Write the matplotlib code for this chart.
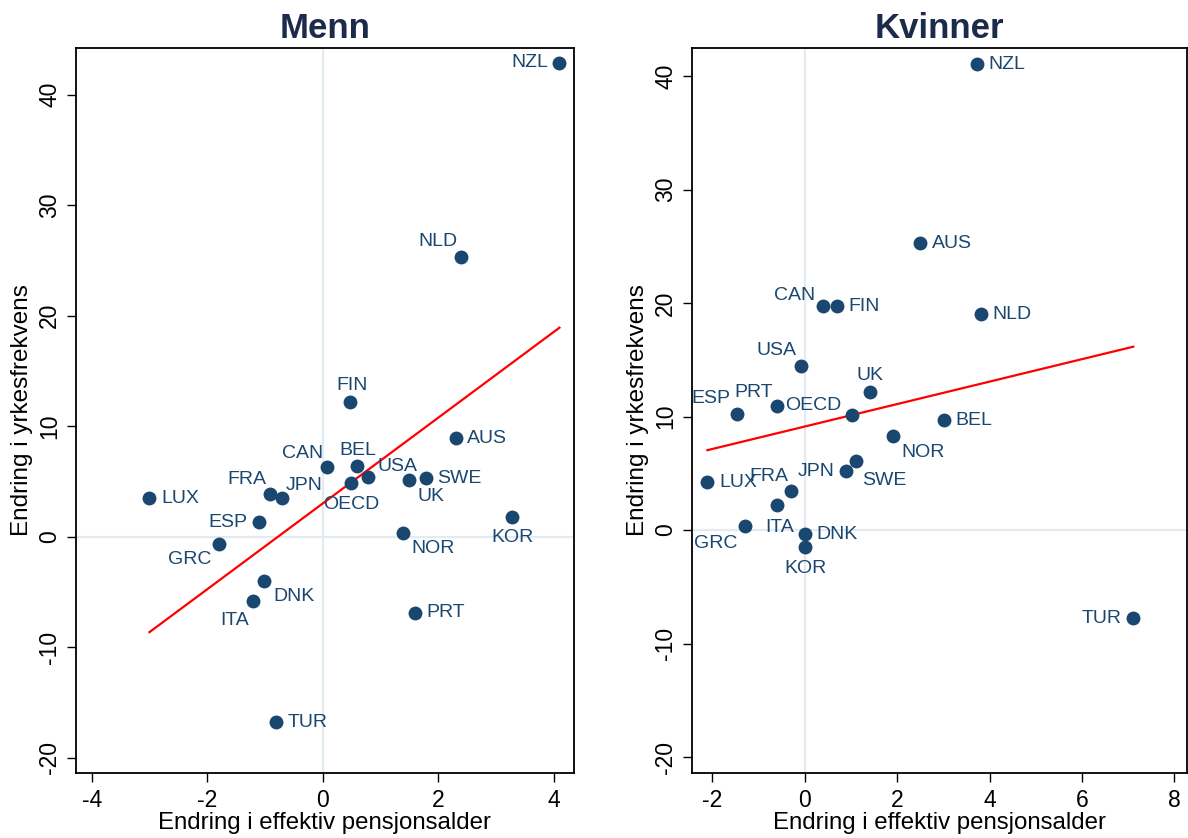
import matplotlib
matplotlib.use("Agg")
import matplotlib.pyplot as plt
import numpy as np

plt.rcParams['font.family'] = ['Liberation Sans', 'DejaVu Sans']

# ---------------- data ----------------
countries_m = ["NZL", "NLD", "FIN", "AUS", "CAN", "BEL", "USA", "OECD", "UK", "SWE", "FRA",
               "JPN", "LUX", "ESP", "GRC", "KOR", "NOR", "DNK", "ITA", "PRT", "TUR"]
x_m = [4.10, 2.40, 0.47, 2.30, 0.07, 0.60, 0.79, 0.49, 1.49, 1.79, -0.92,
       -0.70, -3.00, -1.10, -1.80, 3.28, 1.39, -1.01, -1.21, 1.59, -0.81]
y_m = [42.9, 25.3, 12.2, 8.9, 6.3, 6.4, 5.4, 4.9, 5.1, 5.3, 3.9,
       3.5, 3.5, 1.3, -0.7, 1.8, 0.3, -4.0, -5.8, -6.9, -16.8]

countries_k = ["NZL", "AUS", "CAN", "FIN", "NLD", "USA", "UK", "ESP", "PRT", "OECD", "BEL",
               "NOR", "SWE", "JPN", "LUX", "FRA", "ITA", "GRC", "DNK", "KOR", "TUR"]
x_k = [3.73, 2.50, 0.40, 0.70, 3.82, -0.08, 1.42, -1.48, -0.60, 1.03, 3.02,
       1.91, 1.11, 0.90, -2.11, -0.29, -0.60, -1.29, 0.01, 0.01, 7.11]
y_k = [41.06, 25.29, 19.74, 19.74, 19.03, 14.45, 12.16, 10.22, 10.93, 10.13, 9.69,
       8.28, 6.08, 5.20, 4.23, 3.44, 2.20, 0.35, -0.35, -1.50, -7.75]

xticks_m = [-4, -2, 0, 2, 4]
xticks_k = [-2, 0, 2, 4, 6, 8]
yticks = [-20, -10, 0, 10, 20, 30, 40]

titles = ["Menn", "Kvinner"]
xlabel = "Endring i effektiv pensjonsalder"
ylabel = "Endring i yrkesfrekvens"

# ---------------- label placement (pixel offsets) ----------------
# mode: 'r' = right of point, 'l' = left of point, 'c' = centered offset (dx, dy down)
lab_m = {
    "NZL": ('l', 0, 0), "NLD": ('c', -23, -16), "FIN": ('c', 2, -16), "AUS": ('r', 0, 0),
    "CAN": ('c', -24, -14), "BEL": ('c', 0, -16), "USA": ('c', 29, -11), "OECD": ('c', 0, 22),
    "UK": ('c', 22, 16), "SWE": ('r', 0, 0), "FRA": ('c', -23, -14), "JPN": ('c', 22, -13),
    "LUX": ('r', 0, 0), "ESP": ('l', 0, 0), "GRC": ('c', -29, 15), "KOR": ('c', 0, 21),
    "NOR": ('c', 30, 15), "DNK": ('c', 30, 16), "ITA": ('c', -18, 20), "PRT": ('r', 0, 0),
    "TUR": ('r', 0, 0),
}
lab_k = {
    "NZL": ('r', 0, 0), "AUS": ('r', 0, 0), "CAN": ('c', -29, -11), "FIN": ('r', 0, 0),
    "NLD": ('r', 0, 0), "USA": ('c', -25, -16), "UK": ('c', 0, -17), "ESP": ('c', -26, -16),
    "PRT": ('c', -23, -14), "OECD": ('l', 0, -10), "BEL": ('r', 0, 0), "NOR": ('c', 30, 16),
    "SWE": ('c', 28, 19), "JPN": ('l', 0, 0), "LUX": ('r', 0, 0), "FRA": ('c', -23, -15),
    "ITA": ('c', 2, 22), "GRC": ('c', -30, 17), "DNK": ('r', 0, 0), "KOR": ('c', 0, 21),
    "TUR": ('l', 0, 0),
}

NAVY = '#1a476f'
TITLE = '#1c2a4c'
REF = '#e3ebf0'
DPI = 100
W, H = 1188, 838
PT = 72.0 / DPI

fig = plt.figure(figsize=(W / DPI, H / DPI), dpi=DPI)
fig.patch.set_facecolor('white')

bottom = 1 - 773 / H
top = 1 - 48 / H
ax1 = fig.add_axes([75.8 / W, bottom, (573.5 - 75.8) / W, top - bottom])
ax2 = fig.add_axes([691.7 / W, bottom, (1187.3 - 691.7) / W, top - bottom])

panels = [
    (ax1, x_m, y_m, countries_m, lab_m, xticks_m, (-4.275, 4.343), (-21.38, 44.23)),
    (ax2, x_k, y_k, countries_k, lab_k, xticks_k, (-2.45, 8.28), (-21.4, 42.47)),
]

LFS = 14
for i, (ax, xs, ys, names, labs, xt, xl, yl) in enumerate(panels):
    xs = np.asarray(xs)
    ys = np.asarray(ys)
    ax.set_xlim(*xl)
    ax.set_ylim(*yl)
    ax.axvline(0, color=REF, lw=1.6, zorder=0)
    ax.axhline(0, color=REF, lw=1.6, zorder=0)
    ax.scatter(xs, ys, s=10 ** 2, color=NAVY, zorder=3, linewidths=0)
    b, a = np.polyfit(xs, ys, 1)
    xx = np.array([xs.min(), xs.max()])
    ax.plot(xx, a + b * xx, color='#ff0000', lw=1.6, zorder=2)
    for n, x, y in zip(names, xs, ys):
        mode, dx, dy = labs[n]
        if mode == 'r':
            ax.annotate(n, (x, y), xytext=(11.5 * PT, -dy * PT), textcoords='offset points',
                        ha='left', va='center', fontsize=LFS, color=NAVY, zorder=4)
        elif mode == 'l':
            ax.annotate(n, (x, y), xytext=(-11.5 * PT, -dy * PT), textcoords='offset points',
                        ha='right', va='center', fontsize=LFS, color=NAVY, zorder=4)
        else:
            ax.annotate(n, (x, y), xytext=(dx * PT, -dy * PT), textcoords='offset points',
                        ha='center', va='center', fontsize=LFS, color=NAVY, zorder=4)
    ax.set_xticks(xt)
    ax.set_yticks(yticks)
    ax.set_xticklabels([str(t) for t in xt])
    ax.set_yticklabels([str(t) for t in yticks], rotation=90, va='center')
    ax.tick_params(axis='both', direction='out', length=6.5, width=1.0, labelsize=16.5,
                   colors='black', top=False, right=False)
    ax.tick_params(axis='x', pad=5)
    ax.tick_params(axis='y', pad=4)
    for sp in ax.spines.values():
        sp.set_linewidth(1.3)
        sp.set_color('black')
    ax.set_xlabel(xlabel, fontsize=17.3, labelpad=0)
    ax.set_ylabel(ylabel, fontsize=17.5, labelpad=4)
    ax.set_title(titles[i], fontsize=25, fontweight='bold', color=TITLE, pad=7)

fig.savefig('out.png', dpi=DPI, facecolor='white')
